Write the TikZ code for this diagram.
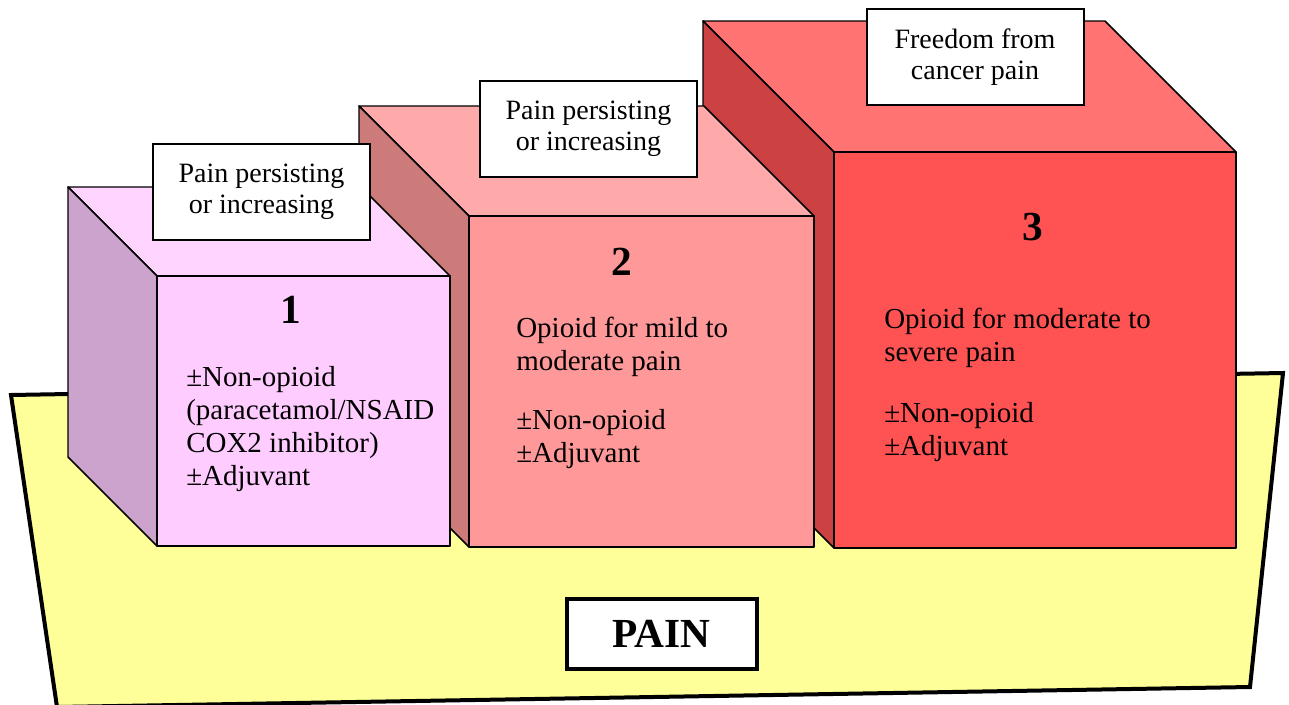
\documentclass[tikz,border=0pt]{standalone}
\usepackage{fontspec}
\setmainfont{Liberation Serif}

\definecolor{Base}{HTML}{FFFF99}
\definecolor{OneFront}{HTML}{FFCCFF}
\definecolor{OneTop}{HTML}{FFD4FF}
\definecolor{OneSide}{HTML}{CCA3CC}
\definecolor{TwoFront}{HTML}{FF9999}
\definecolor{TwoTop}{HTML}{FFAAAA}
\definecolor{TwoSide}{HTML}{CC7A7A}
\definecolor{ThreeFront}{HTML}{FF5353}
\definecolor{ThreeTop}{HTML}{FF7373}
\definecolor{ThreeSide}{HTML}{CC4242}

\begin{document}
\begin{tikzpicture}[x={(0.75pt,0pt)}, y={(0pt,-0.75pt)},
  edge/.style={line width=1.1pt, line join=round},
  notebox/.style={draw, fill=white, line width=1.5pt, align=center,
    minimum width=162.75pt, minimum height=72pt, inner sep=0pt,
    font=\fontsize{21}{23.5}\selectfont},
  stepnum/.style={anchor=base, font=\fontsize{31}{36}\selectfont\bfseries},
  steptext/.style={anchor=base west, align=left, inner sep=0pt,
    font=\fontsize{21.75}{24.75}\selectfont}]

 \clip (0,0) rectangle (1289,704);

 %%%%%%%%%% Socle jaune %%%%%%%%%%
 \filldraw [fill=Base, line width=3pt, line join=miter]
   (11,395) -- (1283,373) -- (1250,687) -- (57,707) -- cycle ;

 %%%%%%%%%% Marche 3 %%%%%%%%%%
 \coordinate (c0) at (703,21);
 \coordinate (c1) at (1105,21);
 \coordinate (c2) at (834,152);
 \coordinate (c3) at (1236,152);
 \coordinate (c4) at (834,548);
 \coordinate (c5) at (1236,548);
 \coordinate (c6) at (703,417);
 \filldraw [edge, fill=ThreeTop] (c0) -- (c1) -- (c3) -- (c2) -- cycle ;
 \filldraw [edge, fill=ThreeSide] (c0) -- (c2) -- (c4) -- (c6) -- cycle ;
 \filldraw [edge, fill=ThreeFront] (c2) -- (c3) -- (c5) -- (c4) -- cycle ;

 %%%%%%%%%% Marche 2 %%%%%%%%%%
 \coordinate (b0) at (359,106);
 \coordinate (b1) at (704,106);
 \coordinate (b2) at (469,216);
 \coordinate (b3) at (814,216);
 \coordinate (b4) at (469,547);
 \coordinate (b5) at (814,547);
 \coordinate (b6) at (359,437);
 \filldraw [edge, fill=TwoTop] (b0) -- (b1) -- (b3) -- (b2) -- cycle ;
 \filldraw [edge, fill=TwoSide] (b0) -- (b2) -- (b4) -- (b6) -- cycle ;
 \filldraw [edge, fill=TwoFront] (b2) -- (b3) -- (b5) -- (b4) -- cycle ;

 %%%%%%%%%% Marche 1 %%%%%%%%%%
 \coordinate (a0) at (68,187);
 \coordinate (a1) at (361,187);
 \coordinate (a2) at (157,276);
 \coordinate (a3) at (450,276);
 \coordinate (a4) at (157,546);
 \coordinate (a5) at (450,546);
 \coordinate (a6) at (68,457);
 \filldraw [edge, fill=OneTop] (a0) -- (a1) -- (a3) -- (a2) -- cycle ;
 \filldraw [edge, fill=OneSide] (a0) -- (a2) -- (a4) -- (a6) -- cycle ;
 \filldraw [edge, fill=OneFront] (a2) -- (a3) -- (a5) -- (a4) -- cycle ;

 %%%%%%%%%% Etiquettes %%%%%%%%%%
 \node [notebox] (note1) at (261.5,192) {Pain persisting\\or increasing};
 \node [notebox] (note2) at (588.5,129) {Pain persisting\\or increasing};
 \node [notebox] (note3) at (975,57) {Freedom from\\cancer pain};

 % Textes des marches (base = derniere ligne)
 \node [stepnum] (num1) at (291,323) {1};
 \node [steptext] (text1) at (186,485)
   {±Non-opioid\\(paracetamol/NSAID\\COX2 inhibitor)\\±Adjuvant};

 \node [stepnum] (num2) at (622,275) {2};
 \node [steptext] (text2a) at (516,370) {Opioid for mild to\\moderate pain};
 \node [steptext] (text2b) at (516,462) {±Non-opioid\\±Adjuvant};

 \node [stepnum] (num3) at (1033,240) {3};
 \node [steptext] (text3a) at (884,361) {Opioid for moderate to\\severe pain};
 \node [steptext] (text3b) at (884,455) {±Non-opioid\\±Adjuvant};

 %%%%%%%%%% PAIN %%%%%%%%%%
 \node [draw, fill=white, line width=3pt, minimum width=142.5pt,
   minimum height=52.5pt, inner sep=0pt,
   font=\fontsize{31}{36}\selectfont\bfseries] (pain) at (661.5,633.5) {PAIN};

\end{tikzpicture}
\end{document}
